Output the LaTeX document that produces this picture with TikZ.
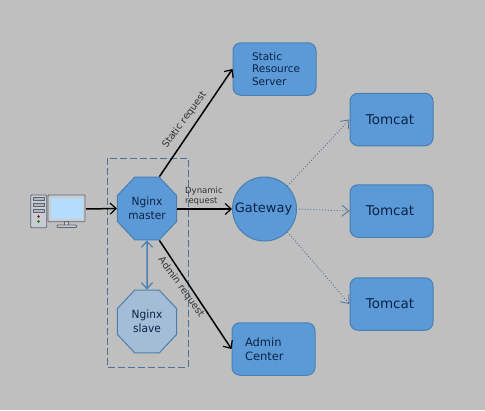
\documentclass[tikz,border=0pt]{standalone}
\usepackage{fontspec}
\setmainfont{DejaVu Sans}
\usetikzlibrary{shapes.geometric,arrows.meta}
\definecolor{bgc}{HTML}{BFBFBF}
\definecolor{boxfill}{HTML}{5B9AD6}
\definecolor{boxline}{HTML}{4A7FB2}
\definecolor{slavefill}{HTML}{A3BDD6}
\definecolor{txtc}{HTML}{0B2347}
\definecolor{dashc}{HTML}{4F7299}
\definecolor{lblc}{HTML}{333333}
\definecolor{pcline}{HTML}{5F6570}
\definecolor{pcfill}{HTML}{C9CDD3}
\definecolor{pcscreen}{HTML}{B5DCFA}
\newcommand{\fs}[2]{\fontsize{#1}{#2}\selectfont}
\newcommand{\pad}[1]{\hspace*{#1pt}}
\tikzset{
  boxnode/.style={draw=boxline,line width=1pt,fill=boxfill,rounded corners=8pt,minimum width=83pt,minimum height=52.5pt,inner sep=0pt,text=txtc},
  octa/.style={regular polygon,regular polygon sides=8,minimum size=68pt,inner sep=0pt,draw=boxline,line width=1pt,text=txtc,align=center,font=\fs{11.3}{13.5},xscale=.94,transform shape},
  mainarrow/.style={draw=black,line width=1.5pt,-{Straight Barb[length=6pt,width=11pt,line width=1.2pt]}},
  dotarrow/.style={draw=dashc,line width=.9pt,dotted,-{Straight Barb[length=7pt,width=11pt,line width=.8pt,line cap=round,sep=0pt]}},
  edgelabel/.style={text=lblc,inner sep=0pt,font=\fs{9.7}{11}},
}
\begin{document}
\begin{tikzpicture}[x=1pt,y=-1pt]
\useasboundingbox (0,0) rectangle (485,410);
\fill[bgc] (0,0) rectangle (485,410);
% group frame
\draw[dashc,line width=.8pt,dash pattern=on 7pt off 3pt] (107,158) rectangle (188,367);
% computer icon
\begin{scope}[draw=pcline,line width=.8pt]
  \draw[fill=pcfill,rounded corners=1pt] (30.7,195) rectangle (46.7,227.7);
  \draw[fill=pcfill!70!gray] (33,197.5) rectangle (44.5,200.5);
  \draw[fill=pcfill!70!gray] (33,203) rectangle (44.5,206);
  \draw[fill=pcfill!70!gray] (33,209) rectangle (44.5,212);
  \fill[red!60!black] (38.5,216.5) circle (1.3pt);
  \fill[green!50!black] (38.5,221.5) circle (1.3pt);
  \draw[fill=pcfill,rounded corners=.8pt] (48,195) rectangle (85,221.7);
  \fill[pcscreen] (50.7,197.5) rectangle (82.7,218.5);
  \draw[fill=pcfill] (64.5,221.7) rectangle (68.5,225);
  \draw[fill=pcfill,rounded corners=.8pt] (57,225) rectangle (76.5,227.5);
\end{scope}
\coordinate (pc) at (86,209);
% nodes
\node[boxnode,align=left,font=\fs{10.5}{12.5},text width=83pt] (static) at (274.5,69) {\pad{19}Static\\\pad{19}Resource\\\pad{19}Server};
\node[boxnode,font=\fs{13.5}{16}] (t1) at (391.5,119.5) {Tomcat\pad{3}};
\node[boxnode,font=\fs{13.5}{16}] (t2) at (391.5,211) {Tomcat\pad{3}};
\node[boxnode,font=\fs{13.5}{16}] (t3) at (391.5,304) {Tomcat\pad{3}};
\node[boxnode,align=left,font=\fs{11.5}{14},text width=83pt] (admin) at (273.5,349) {\pad{13}Admin\\\pad{13}Center};
\node[circle,draw=boxline,line width=1pt,fill=boxfill,minimum size=64pt,inner sep=0pt,text=txtc,font=\fs{13}{15}] (gw) at (264.5,209) {Gateway\pad{2}};
\node[octa,fill=boxfill] (master) at (147,208.5) {Nginx\\master};
\node[octa,fill=slavefill] (slave) at (147,321.5) {Nginx\\slave};
% connectors
\draw[mainarrow] (pc) -- (master.west);
\draw[mainarrow] (master.corner 1) -- (static.west);
\draw[mainarrow] (master.east |- gw.west) -- (gw.west);
\draw[mainarrow] (master.corner 6) -- (admin.west);
\draw[draw=boxline,line width=1.5pt,{Straight Barb[length=6pt,width=11pt,line width=1.2pt]}-{Straight Barb[length=6pt,width=11pt,line width=1.2pt]}] (master.south) -- (slave.north);
\draw[dotarrow] (gw.north east) -- (t1.west);
\draw[dotarrow,shorten <=2pt] (gw.east) -- (t2.west);
\draw[dotarrow] (gw.south east) -- (t3.west);
% connector labels
\node[edgelabel,rotate=54] (lstatic) at (184.5,120) {Static request};
\node[edgelabel,rotate=-54] (ladmin) at (181,287) {Admin request};
\node[edgelabel,anchor=west,align=left,font=\fs{8.5}{10}] (ldyn) at (185,196) {Dynamic\\request};
\end{tikzpicture}
\end{document}
